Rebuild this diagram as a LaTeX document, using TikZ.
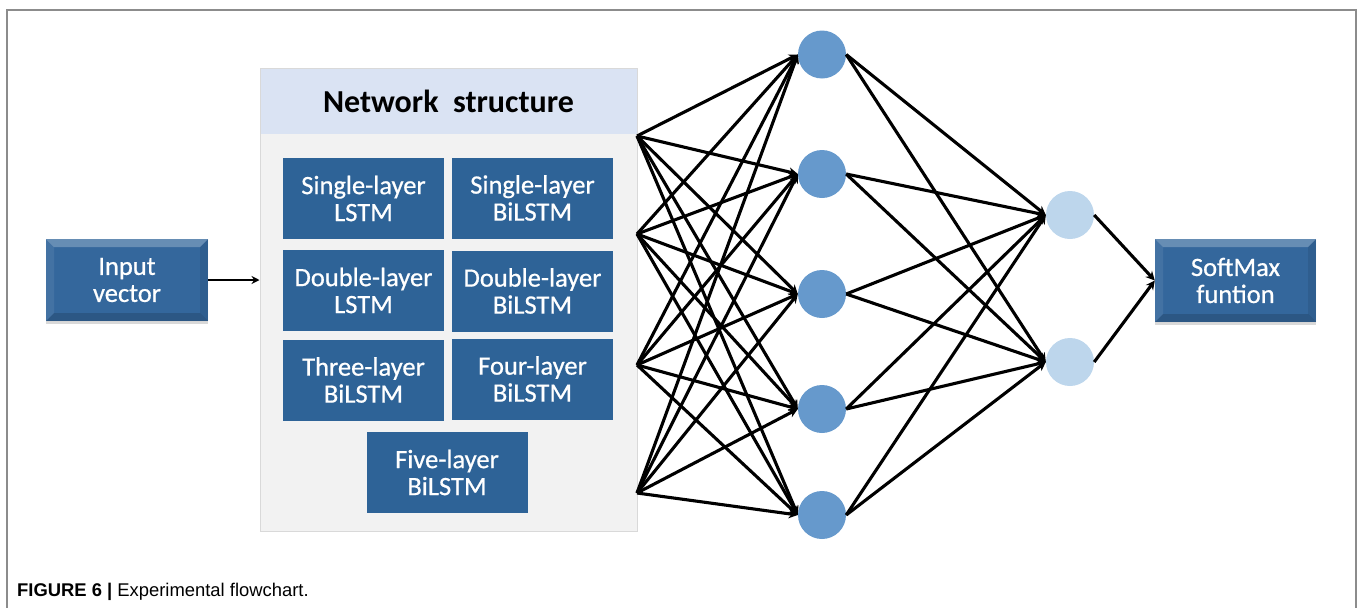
\documentclass[tikz,border=0pt]{standalone}
\usepackage{fontspec}
\setmainfont{Carlito}
\newfontfamily\boxfont[FakeBold=0.7]{Carlito}
\newfontfamily\capfont{Liberation Sans}
\usetikzlibrary{arrows.meta,shadows}
\definecolor{boxblue}{RGB}{46,99,151}
\definecolor{bevblue}{RGB}{52,103,156}
\definecolor{hidcol}{RGB}{102,153,204}
\definecolor{outcol}{RGB}{189,214,236}
\definecolor{headcol}{RGB}{218,227,243}
\definecolor{netfill}{RGB}{242,242,242}
\definecolor{netdraw}{RGB}{217,217,217}
\definecolor{framecol}{RGB}{140,140,140}
\begin{document}
\begin{tikzpicture}[x=1pt,y=-1pt,
  inner/.style={fill=boxblue,minimum width=161pt,minimum height=81pt,inner sep=0pt,
    text=white,align=center,font=\boxfont\fontsize{26.5}{27}\selectfont},
  bevel/.style={inner,fill=bevblue,
    drop shadow={opacity=0.3,shadow xshift=0pt,shadow yshift=-3pt},
    path picture={
      \coordinate (NW) at (path picture bounding box.north west);
      \coordinate (NE) at (path picture bounding box.north east);
      \coordinate (SW) at (path picture bounding box.south west);
      \coordinate (SE) at (path picture bounding box.south east);
      \fill[white,opacity=0.25] (NW) -- (NE) -- ([xshift=-8pt,yshift=-8pt]NE) -- ([xshift=8pt,yshift=-8pt]NW) -- cycle;
      \fill[white,opacity=0.08] (NW) -- ([xshift=8pt,yshift=-8pt]NW) -- ([xshift=8pt,yshift=8pt]SW) -- (SW) -- cycle;
      \fill[black,opacity=0.08] (NE) -- ([xshift=-8pt,yshift=-8pt]NE) -- ([xshift=-8pt,yshift=8pt]SE) -- (SE) -- cycle;
      \fill[black,opacity=0.15] (SW) -- (SE) -- ([xshift=-8pt,yshift=8pt]SE) -- ([xshift=8pt,yshift=8pt]SW) -- cycle;
    }},
  neuron/.style={circle,minimum size=48pt,inner sep=0pt},
  conn/.style={line width=3.1pt,-{Stealth[length=9pt,width=9pt]}}
]
\useasboundingbox (0,0) rectangle (1358,608);
% frame
\draw[framecol,line width=1.5pt] (7,620) -- (7,10) -- (1356,10) -- (1356,620);
% network structure box
\node[draw=netdraw,fill=netfill,line width=1pt,minimum width=377pt,minimum height=463pt,inner sep=0pt] (net) at (448.5,299.5) {};
\node[fill=headcol,minimum width=376pt,minimum height=65pt,inner sep=0pt,font=\fontsize{32}{33}\selectfont\bfseries] (head) at (448.5,101) {Network\ \ structure};
\node[inner] (b1) at (363.5,198.5) {Single-layer\\LSTM};
\node[inner] (b2) at (532.5,198) {Single-layer\\BiLSTM};
\node[inner] (b3) at (363.5,290.5) {Double-layer\\LSTM};
\node[inner] (b4) at (532.5,291) {Double-layer\\BiLSTM};
\node[inner] (b5) at (363.5,380) {Three-layer\\BiLSTM};
\node[inner] (b6) at (532.5,379) {Four-layer\\BiLSTM};
\node[inner] (b7) at (447,472.5) {Five-layer\\BiLSTM};
% input & softmax
\node[bevel,minimum width=162pt,minimum height=82pt] (in) at (127,280) {Input\\vector};
\node[bevel,minimum width=161pt,minimum height=83pt] (sm) at (1235.5,280.5) {SoftMax\\funtion};
\draw[line width=2.6pt,-{Stealth[length=8pt,width=8pt]}] (in.east) -- (in.east -| net.west);
% neurons
\node[neuron,fill=hidcol] (h1) at (822,54.5) {};
\node[neuron,fill=hidcol] (h2) at (822,174) {};
\node[neuron,fill=hidcol] (h3) at (822,294) {};
\node[neuron,fill=hidcol] (h4) at (822,409) {};
\node[neuron,fill=hidcol] (h5) at (822,515) {};
\node[neuron,fill=outcol] (o1) at (1070,215) {};
\node[neuron,fill=outcol] (o2) at (1070,362) {};
% sources
\coordinate (s1) at (637,136);
\coordinate (s2) at (637,234);
\coordinate (s3) at (637,365);
\coordinate (s4) at (637,493);
\foreach \s in {s1,s2,s3,s4}
  \foreach \h in {h1,h2,h3,h4,h5}
    \draw[conn] (\s) -- (\h.west);
\foreach \h in {h1,h2,h3,h4,h5}
  \foreach \o in {o1,o2}
    \draw[conn] (\h.east) -- (\o.west);
\draw[conn] (o1.east) -- (sm.west);
\draw[conn] (o2.east) -- (sm.west);
% caption
\node[anchor=base west,inner sep=0pt,font=\capfont\fontsize{18.4}{20}\selectfont] (cap) at (17,596) {\textbf{FIGURE 6 |} Experimental flowchart.};
\end{tikzpicture}
\end{document}
